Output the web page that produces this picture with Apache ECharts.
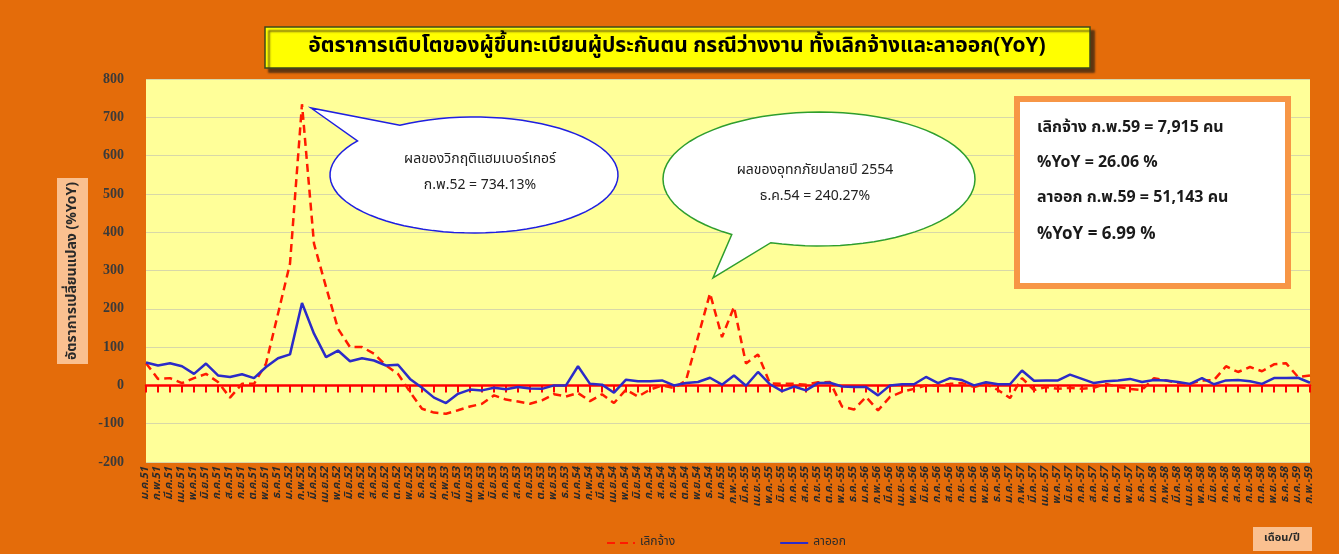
<!DOCTYPE html>
<html>
<head>
<meta charset="utf-8">
<script src="https://cdn.jsdelivr.net/npm/echarts@6/dist/echarts.min.js"></script>
<style>
html,body{margin:0;padding:0;background:#E46C0A;}
#chart{width:1339px;height:554px;}
</style>
</head>
<body>
<div id="chart"></div>
<script>
const categories = [
 'ม.ค.51','ก.พ.51','มี.ค.51','เม.ย.51','พ.ค.51','มิ.ย.51','ก.ค.51','ส.ค.51','ก.ย.51','ต.ค.51','พ.ย.51','ธ.ค.51',
 'ม.ค.52','ก.พ.52','มี.ค.52','เม.ย.52','พ.ค.52','มิ.ย.52','ก.ค.52','ส.ค.52','ก.ย.52','ต.ค.52','พ.ย.52','ธ.ค.52',
 'ม.ค.53','ก.พ.53','มี.ค.53','เม.ย.53','พ.ค.53','มิ.ย.53','ก.ค.53','ส.ค.53','ก.ย.53','ต.ค.53','พ.ย.53','ธ.ค.53',
 'ม.ค.54','ก.พ.54','มี.ค.54','เม.ย.54','พ.ค.54','มิ.ย.54','ก.ค.54','ส.ค.54','ก.ย.54','ต.ค.54','พ.ย.54','ธ.ค.54',
 'ม.ค.55','ก.พ.-55','มี.ค.-55','เม.ย.-55','พ.ค.-55','มิ.ย.-55','ก.ค.-55','ส.ค.-55','ก.ย.-55','ต.ค.-55','พ.ย.-55','ธ.ค.-55',
 'ม.ค.-56','ก.พ.-56','มี.ค.-56','เม.ย.-56','พ.ค.-56','มิ.ย.-56','ก.ค.-56','ส.ค.-56','ก.ย.-56','ต.ค.-56','พ.ย.-56','ธ.ค.-56',
 'ม.ค.-57','ก.พ.-57','มี.ค.-57','เม.ย.-57','พ.ค.-57','มิ.ย.-57','ก.ค.-57','ส.ค.-57','ก.ย.-57','ต.ค.-57','พ.ย.-57','ธ.ค.-57',
 'ม.ค.-58','ก.พ.-58','มี.ค.-58','เม.ย.-58','พ.ค.-58','มิ.ย.-58','ก.ค.-58','ส.ค.-58','ก.ย.-58','ต.ค.-58','พ.ย.-58','ธ.ค.-58',
 'ม.ค.-59','ก.พ.-59'
];

// เลิกจ้าง (%YoY)
const layoff = [
 58,17,19,6,19,30,9,-32,4,4,57,187,
 318,734.13,370,257,148,100,100,83,52,30,-17,-61,
 -71,-74,-65,-55,-48,-26,-37,-42,-48,-39,-23,-29,
 -20,-41,-23,-46,-11,-29,-11,0,-7,13,126,240.27,
 126,205,57,81,5,4,4,2,8,9,-55,-63,
 -30,-65,-30,-17,-9,0,0,4,6,-4,4,-12,
 -33,19,-12,-4,-9,-6,-9,-6,4,-4,-9,-12,
 19,13,6,4,13,14,50,35,48,37,55,58,
 22,26.06
];

// ลาออก (%YoY)
const resign = [
 60,52,58,50,30,57,26,22,29,19,48,71,
 81,215,135,74,91,63,71,65,52,54,17,-6,
 -32,-46,-22,-11,-13,-6,-10,-4,-8,-9,0,0,
 50,4,2,-19,15,11,11,13,0,6,9,20,
 2,26,-1,35,3,-15,-3,-13,6,7,-3,-4,
 -4,-26,0,3,3,22,6,19,14,0,8,3,
 3,39,12,13,13,28,17,6,11,13,17,9,
 14,13,9,4,19,3,13,14,11,4,19,19,
 20,6.99
];

const seriesNames = ['เลิกจ้าง','ลาออก'];
const yTicks = {min:-200, max:800, interval:100};

const FONT = "Tahoma, 'Noto Sans Thai', 'Noto Sans', sans-serif";

function bubble(cx, cy, rx, ry, aStart, aEnd, tip) {
  const pts = [];
  const n = 80;
  for (let k = 0; k <= n; k++) {
    const a = (aStart + (aEnd - aStart) * k / n) * Math.PI / 180;
    pts.push([cx + rx * Math.cos(a), cy + ry * Math.sin(a)]);
  }
  pts.push(tip);
  return pts;
}

const chart = echarts.init(document.getElementById('chart'));
chart.setOption({
  backgroundColor: '#E46C0A',
  animation: false,
  textStyle: {fontFamily: FONT},
  grid: {left: 146, width: 1164, top: 79, height: 383, show: true,
         backgroundColor: '#FFFF99', borderWidth: 0, containLabel: false},
  legend: {
    data: seriesNames, left: 601, top: 532, itemGap: 104, itemWidth: 28, itemHeight: 10,
    itemStyle: {opacity: 0},
    textStyle: {fontFamily: FONT, fontSize: 12, color: '#2b2b2b'}
  },
  xAxis: [{
    type: 'category', data: categories, boundaryGap: false,
    axisLine: {onZero: true, lineStyle: {color: '#FF0000', width: 2.5}},
    axisTick: {show: true, interval: 0, length: 7, lineStyle: {color: '#FF0000', width: 2}},
    axisLabel: {show: false}, splitLine: {show: false}
  }, {
    type: 'category', data: categories, boundaryGap: false, position: 'bottom',
    axisLine: {show: false, onZero: false}, axisTick: {show: false},
    axisLabel: {interval: 0, rotate: 90, margin: 5, fontSize: 11, fontWeight: 'bold',
                fontStyle: 'italic', color: '#2a2a2a', fontFamily: FONT}
  }],
  yAxis: {
    type: 'value', min: yTicks.min, max: yTicks.max, interval: yTicks.interval,
    axisLine: {show: false}, axisTick: {show: false},
    axisLabel: {margin: 22, fontSize: 14, fontWeight: 'bold', color: '#3a3a3a',
                fontFamily: "'Liberation Serif', 'DejaVu Serif', serif"},
    splitLine: {lineStyle: {color: '#D8D8A8', width: 1}}
  },
  series: [{
    name: seriesNames[0], type: 'line', data: layoff, symbol: 'none', z: 3,
    lineStyle: {color: '#FF1A00', width: 2.5, type: [8, 5]},
    itemStyle: {color: '#FF1A00'}
  }, {
    name: seriesNames[1], type: 'line', data: resign, symbol: 'none', z: 4,
    lineStyle: {color: '#2B2BC8', width: 2.5},
    itemStyle: {color: '#2B2BC8'}
  }],
  graphic: [
    // title
    {type: 'rect', shape: {x: 265, y: 27, width: 825, height: 41}, z: 10,
     style: {fill: '#FFFF00', stroke: '#3c4a1c', lineWidth: 1.5,
             shadowColor: 'rgba(60,40,20,0.8)', shadowOffsetX: 4, shadowOffsetY: 4, shadowBlur: 2}},
    {type: 'text', x: 677, y: 48, z: 11,
     style: {text: 'อัตราการเติบโตของผู้ขึ้นทะเบียนผู้ประกันตน กรณีว่างงาน ทั้งเลิกจ้างและลาออก(YoY)',
             fill: '#000', font: "bold 21px " + FONT, align: 'center', verticalAlign: 'middle'}},
    // y axis title
    {type: 'rect', shape: {x: 57, y: 178, width: 31, height: 186}, z: 10, style: {fill: '#FAC090'}},
    {type: 'text', x: 73, y: 271, rotation: Math.PI / 2, z: 11,
     style: {text: 'อัตราการเปลี่ยนแปลง (%YoY)', fill: '#2a2a2a', font: "bold 14px " + FONT,
             align: 'center', verticalAlign: 'middle'}},
    // x axis unit
    {type: 'rect', shape: {x: 1253, y: 527, width: 59, height: 24}, z: 10, style: {fill: '#FAC090'}},
    {type: 'text', x: 1282, y: 539, z: 11,
     style: {text: 'เดือน/ปี', fill: '#2a2a2a', font: "bold 11px " + FONT, align: 'center', verticalAlign: 'middle'}},
    // callout 1
    {type: 'polygon', z: 10, shape: {points: bubble(474, 175, 144, 58, -121, 216, [311, 108])},
     style: {fill: '#FFFFFF', stroke: '#1F1FE0', lineWidth: 1.5}},
    {type: 'text', x: 480, y: 160, z: 11,
     style: {text: 'ผลของวิกฤติแฮมเบอร์เกอร์', fill: '#222', font: "14px " + FONT, align: 'center', verticalAlign: 'middle'}},
    {type: 'text', x: 480, y: 186, z: 11,
     style: {text: 'ก.พ.52 = 734.13%', fill: '#222', font: "14px " + FONT, align: 'center', verticalAlign: 'middle'}},
    // callout 2
    {type: 'polygon', z: 10, shape: {points: bubble(819, 179, 156, 67, 124, 468, [713, 278])},
     style: {fill: '#FFFFFF', stroke: '#2E9E2E', lineWidth: 1.5}},
    {type: 'text', x: 815, y: 171, z: 11,
     style: {text: 'ผลของอุทกภัยปลายปี 2554', fill: '#222', font: "14px " + FONT, align: 'center', verticalAlign: 'middle'}},
    {type: 'text', x: 815, y: 197, z: 11,
     style: {text: 'ธ.ค.54 = 240.27%', fill: '#222', font: "14px " + FONT, align: 'center', verticalAlign: 'middle'}},
    // info box
    {type: 'rect', shape: {x: 1017, y: 99, width: 271, height: 187}, z: 10,
     style: {fill: '#FFFFFF', stroke: '#F79646', lineWidth: 6}},
    {type: 'text', x: 1037, y: 129, z: 11,
     style: {text: 'เลิกจ้าง ก.พ.59 = 7,915 คน', fill: '#1a1a1a', font: "bold 16px " + FONT, verticalAlign: 'middle'}},
    {type: 'text', x: 1037, y: 164, z: 11,
     style: {text: '%YoY = 26.06 %', fill: '#1a1a1a', font: "bold 16px " + FONT, verticalAlign: 'middle'}},
    {type: 'text', x: 1037, y: 199, z: 11,
     style: {text: 'ลาออก ก.พ.59 = 51,143 คน', fill: '#1a1a1a', font: "bold 16px " + FONT, verticalAlign: 'middle'}},
    {type: 'text', x: 1037, y: 236, z: 11,
     style: {text: '%YoY = 6.99 %', fill: '#1a1a1a', font: "bold 17px " + FONT, verticalAlign: 'middle'}}
  ]
});
</script>
</body>
</html>
